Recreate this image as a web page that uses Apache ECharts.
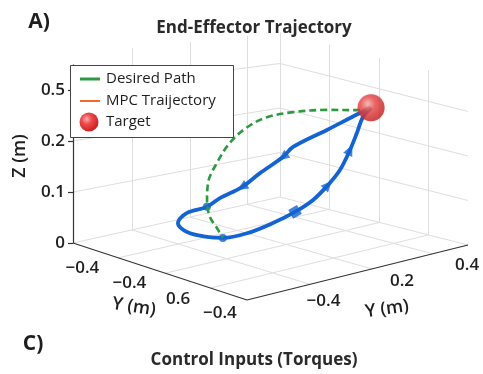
<!DOCTYPE html>
<html><head><meta charset="utf-8">
<script src="https://cdn.jsdelivr.net/npm/echarts@6/dist/echarts.min.js"></script>
<style>html,body{margin:0;padding:0;background:#fff}#c{width:483px;height:374px}</style>
</head><body><div id="c"></div>
<script>
// ---- data (3D: a = left floor axis, b = right floor axis, z = height) ----
const mpcA = [0.30,0.32,0.36,0.40,0.42,0.45,0.49,0.53,0.56,0.62,0.68,0.70,0.68,0.63,0.58,0.53,0.48,0.44,0.40,0.37,0.34,0.32,0.31,0.30];
const mpcB = [0.813,0.779,0.660,0.537,0.507,0.425,0.375,0.305,0.269,0.226,0.233,0.293,0.370,0.403,0.474,0.553,0.614,0.664,0.699,0.729,0.750,0.765,0.784,0.813];
const mpcZ = [0.290,0.279,0.247,0.216,0.195,0.165,0.136,0.115,0.097,0.082,0.054,0.028,0.013,0.013,0.021,0.040,0.063,0.088,0.121,0.154,0.199,0.237,0.271,0.290];
const desiredA = [0.30,0.31,0.33,0.36,0.40,0.44,0.48,0.52,0.55,0.57,0.59,0.61,0.63];
const desiredB = [0.813,0.756,0.635,0.503,0.416,0.357,0.310,0.283,0.266,0.278,0.309,0.358,0.403];
const desiredZ = [0.290,0.288,0.295,0.296,0.287,0.266,0.233,0.190,0.147,0.103,0.069,0.040,0.013];
const target = [0.30, 0.813, 0.290];
const arrowIdx = [4, 6, 18, 20];
const squareIdx = [16];
const dotIdx = [8, 13];

const zTicks = [0, 0.1, 0.2, 0.3];
const zTickLabels = ['0', '0.1', '0.2', '0.5'];
const leftTicks = [0.9, 0.63, 0.35, 0.11];
const leftTickLabels = ['\u22120.4', '\u22120.4', '0.6', '\u22120.4'];
const rightTicks = [0.31, 0.665, 0.96];
const rightTickLabels = ['\u22120.4', '0.2', '0.4'];
const gridA = [0.21, 0.47, 0.74];
const gridB = [0.285, 0.565, 0.84];
const gridZ = [0.1, 0.2, 0.3];
const zTop = 0.37;
const zAxisTop = 0.35;
const legendLabels = ['Desired Path', 'MPC Traijectory', 'Target'];

// ---- projection (view setup) ----
const F = [247, 300], L = [73, 243], R = [468, 245], B = [280, 197];
function proj(a, b, z) {
  const w00 = (1 - a) * (1 - b), w10 = a * (1 - b), w01 = (1 - a) * b, w11 = a * b;
  const x = F[0] * w00 + L[0] * w10 + R[0] * w01 + B[0] * w11;
  const y = F[1] * w00 + L[1] * w10 + R[1] * w01 + B[1] * w11 - z * (510 - 65 * b);
  return [x, y];
}

const gridSegs = [];
gridA.forEach(a => {
  gridSegs.push([proj(a, 0, 0), proj(a, 1, 0)]);
  gridSegs.push([proj(a, 1, 0), proj(a, 1, zTop)]);
});
gridB.forEach(b => {
  gridSegs.push([proj(0, b, 0), proj(1, b, 0)]);
  gridSegs.push([proj(1, b, 0), proj(1, b, zTop)]);
});
gridZ.forEach(z => {
  gridSegs.push([proj(1, 0, z), proj(1, 1, z)]);
  gridSegs.push([proj(1, 1, z), proj(0, 1, z)]);
});
gridSegs.push([proj(1, 0, 0), proj(1, 1, 0)]);
gridSegs.push([proj(1, 1, 0), proj(0, 1, 0)]);
gridSegs.push([proj(1, 1, 0), proj(1, 1, zTop)]);

const axisSegs = [
  [proj(0, 0, 0), proj(1, 0, 0)],
  [proj(0, 0, 0), proj(0, 1, 0)],
  [proj(1, 0, 0), proj(1, 0, zAxisTop)]
];
zTicks.forEach(z => {
  const p = proj(1, 0, z);
  axisSegs.push([[p[0] - 5, p[1]], p]);
});

const mpcPts = mpcA.map((a, i) => proj(a, mpcB[i], mpcZ[i]));
const desPts = desiredA.map((a, i) => proj(a, desiredB[i], desiredZ[i]));

function dirDeg(i) {
  const p0 = mpcPts[i - 1], p1 = mpcPts[i + 1];
  return Math.atan2(-(p1[1] - p0[1]), p1[0] - p0[0]) * 180 / Math.PI - 90;
}
const markerData = [];
arrowIdx.forEach(i => markerData.push({ value: mpcPts[i], symbol: 'triangle', symbolSize: [10, 11], symbolRotate: dirDeg(i) }));
squareIdx.forEach(i => markerData.push({ value: mpcPts[i], symbol: 'rect', symbolSize: 10, symbolRotate: dirDeg(i) + 90 }));
dotIdx.forEach(i => markerData.push({ value: mpcPts[i], symbol: 'circle', symbolSize: 8 }));

const FONT = '"Open Sans"';
const TXT = '#1e1e1e';
const sphereGrad = () => new echarts.graphic.RadialGradient(0.38, 0.35, 0.75, [
  { offset: 0, color: '#ffb0b0' }, { offset: 0.35, color: '#f04a4a' }, { offset: 1, color: '#c01818' }
]);

const graphics = [];
function txt(x, y, text, opts) {
  graphics.push(Object.assign({
    type: 'text', x: x, y: y, z: 50,
    style: Object.assign({ text: text, fill: TXT, font: '600 17px ' + FONT, align: 'center', verticalAlign: 'middle' }, opts && opts.style)
  }, opts && opts.el));
}
txt(39, 22, 'A)', { style: { font: 'bold 21px ' + FONT } });
txt(254, 28, 'End-Effector Trajectory', { style: { font: 'bold 17px ' + FONT, fill: '#2a2a2a' } });
txt(33, 344, 'C)', { style: { font: 'bold 21px ' + FONT } });
txt(254, 360, 'Control Inputs (Torques)', { style: { font: 'bold 17px ' + FONT, fill: '#2a2a2a' } });
txt(20, 156, 'Z (m)', { style: { font: '600 18px ' + FONT }, el: { rotation: Math.PI / 2 } });
txt(134, 307, 'Y (m)', { style: { font: '600 18px ' + FONT }, el: { rotation: -0.15 } });
txt(387, 309, 'Y (m)', { style: { font: '600 18px ' + FONT }, el: { rotation: 0.14 } });
zTicks.forEach((z, i) => {
  const p = proj(1, 0, z);
  txt(p[0] - 8, p[1], zTickLabels[i], { style: { align: 'right' } });
});
leftTicks.forEach((a, i) => {
  const p = proj(a, 0, 0);
  txt(p[0] - 8, p[1] + 19, leftTickLabels[i]);
});
rightTicks.forEach((b, i) => {
  const p = proj(0, b, 0);
  txt(p[0] + 8, p[1] + 18, rightTickLabels[i]);
});
// legend
graphics.push({ type: 'rect', z: 60, shape: { x: 70.5, y: 65.5, width: 163, height: 72 }, style: { fill: '#fff', stroke: '#444', lineWidth: 1 } });
graphics.push({ type: 'line', z: 61, shape: { x1: 80, y1: 79, x2: 100, y2: 79 }, style: { stroke: '#2e9a40', lineWidth: 3 } });
graphics.push({ type: 'line', z: 61, shape: { x1: 80, y1: 101, x2: 100, y2: 101 }, style: { stroke: '#f26b2a', lineWidth: 2 } });
graphics.push({ type: 'circle', z: 61, shape: { cx: 89, cy: 122, r: 9.5 }, style: { fill: sphereGrad() } });
[79, 101, 122].forEach((y, i) => {
  graphics.push({ type: 'text', z: 62, x: 106, y: y, style: { text: legendLabels[i], fill: TXT, font: '500 15px ' + FONT, align: 'left', verticalAlign: 'middle' } });
});

const chart = echarts.init(document.getElementById('c'), null, { renderer: 'canvas' });
chart.setOption({
  animation: false,
  backgroundColor: '#fff',
  grid: { left: 0, right: 0, top: 0, bottom: 0 },
  xAxis: { type: 'value', min: 0, max: 483, show: false },
  yAxis: { type: 'value', min: 0, max: 374, inverse: true, show: false },
  series: [
    { type: 'lines', coordinateSystem: 'cartesian2d', z: 1, silent: true,
      lineStyle: { color: '#dedede', width: 1, opacity: 1 },
      data: gridSegs.map(s => ({ coords: s })) },
    { type: 'lines', coordinateSystem: 'cartesian2d', z: 2, silent: true,
      lineStyle: { color: '#333', width: 1.2, opacity: 1 },
      data: axisSegs.map(s => ({ coords: s })) },
    { type: 'line', name: 'MPC Traijectory', z: 3, data: mpcPts, smooth: 0.35, showSymbol: false, symbol: 'none',
      lineStyle: { color: '#1463d2', width: 3.8 } },
    { type: 'scatter', z: 4, data: markerData, itemStyle: { color: '#1463d2' } },
    { type: 'line', name: 'Desired Path', z: 5, data: desPts, smooth: 0.35, showSymbol: false, symbol: 'none',
      lineStyle: { color: '#2e9a40', width: 2.6, type: [7, 4] } },
    { type: 'scatter', name: 'Target', z: 6, data: [proj(target[0], target[1], target[2])], symbolSize: 27,
      itemStyle: { color: sphereGrad(), shadowBlur: 2, shadowColor: 'rgba(0,0,0,0.2)' } }
  ],
  graphic: graphics
});
</script>
</body></html>
